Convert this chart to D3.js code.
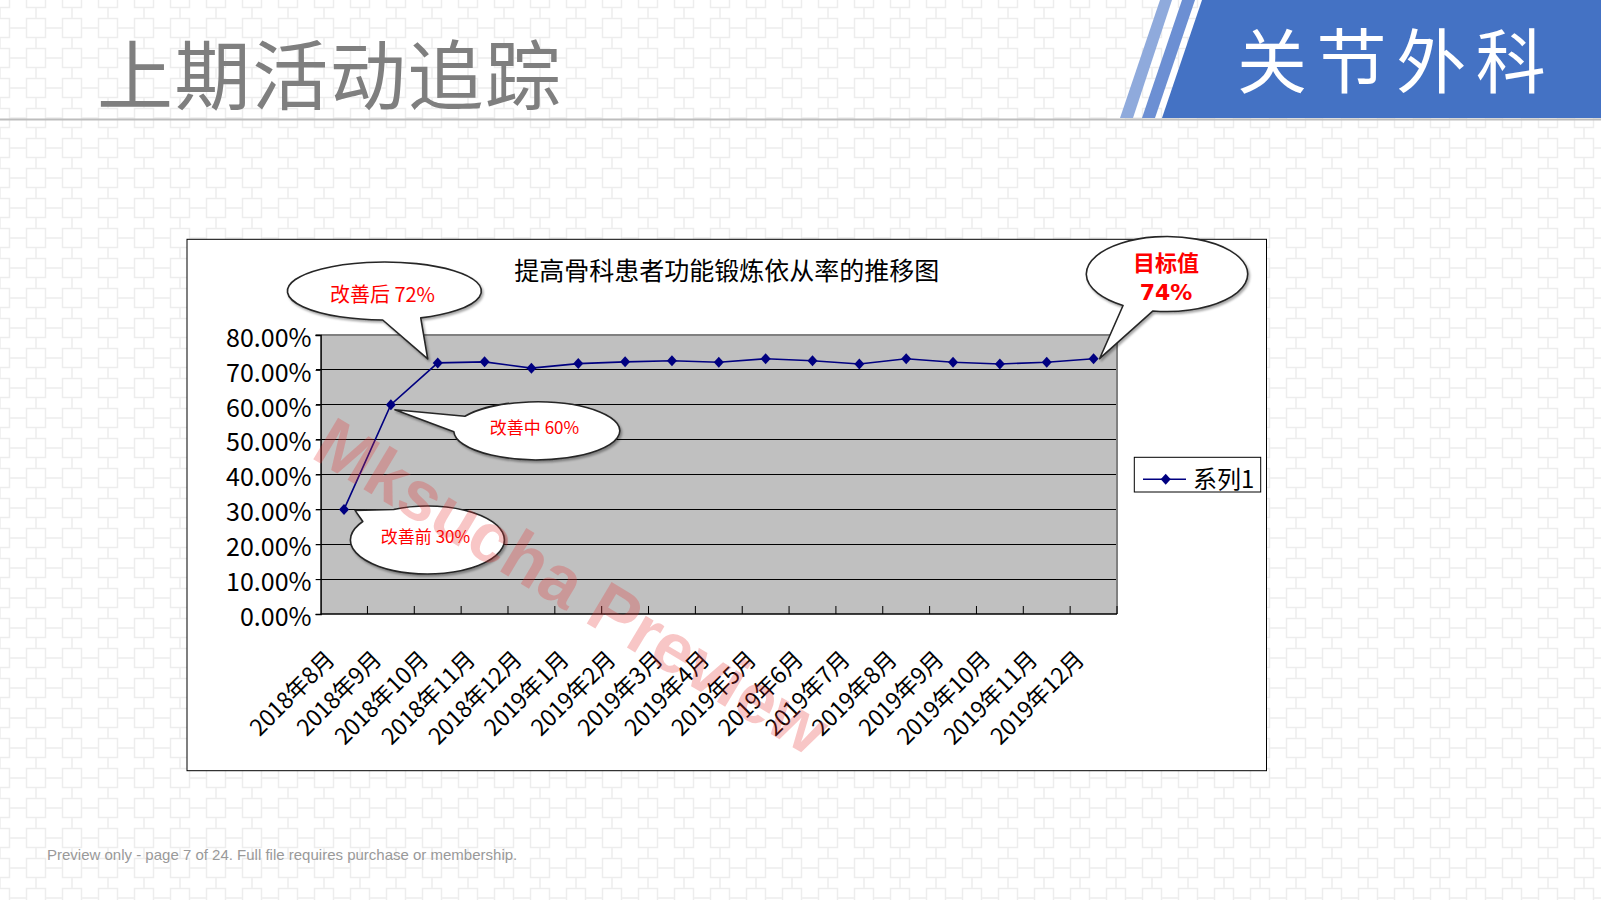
<!DOCTYPE html>
<html><head><meta charset="utf-8">
<script src="https://cdn.jsdelivr.net/npm/d3@7"></script>
<style>
html,body{margin:0;padding:0;background:#fff;}
svg{display:block;}
</style></head><body>
<svg id="c" width="1601" height="900"></svg>
<script>
// ---------- data ----------
const categories = ["2018年8月","2018年9月","2018年10月","2018年11月","2018年12月","2019年1月","2019年2月","2019年3月","2019年4月","2019年5月","2019年6月","2019年7月","2019年8月","2019年9月","2019年10月","2019年11月","2019年12月"];
const seriesName = "系列1";
const values = [0.30,0.60,0.72,0.723,0.705,0.718,0.723,0.726,0.722,0.732,0.726,0.717,0.732,0.722,0.717,0.722,0.732];
const yTicks = [0,0.1,0.2,0.3,0.4,0.5,0.6,0.7,0.8];
const chartTitle = "提高骨科患者功能锻炼依从率的推移图";
const pageTitle = "上期活动追踪";
const deptName = "关节外科";
const calloutTexts = [["改善后 72%"],["改善中 60%"],["改善前 30%"],["目标值","74%"]];
const calloutPointIndex = [2,1,0,16];
const footerText = "Preview only - page 7 of 24. Full file requires purchase or membership.";
const watermarkText = "Mksucha Preview";

// ---------- layout ----------
const W = 1601, H = 900;
const plot = {l: 320.6, r: 1117, t: 335, b: 614};
const box = {l: 187, t: 239.3, r: 1266.5, b: 770.7};
const cjk = "'Noto Sans CJK SC','Noto Sans',sans-serif";

const svg = d3.select("#c");
const defs = svg.append("defs");

// background lattice pattern
const pat = defs.append("pattern").attr("id","bg").attr("patternUnits","userSpaceOnUse")
  .attr("width",36).attr("height",30).attr("patternTransform","translate(18,13)");
pat.append("rect").attr("x",8.5).attr("y",5.5).attr("width",19).attr("height",19)
  .attr("fill","none").attr("stroke","#ededed").attr("stroke-width",1.5);
pat.append("path").attr("d","M27.5,15H36M0,15H8.5M18,0V5.5M18,24.5V30")
  .attr("stroke","#ededed").attr("stroke-width",1.5).attr("fill","none");
svg.append("rect").attr("width",W).attr("height",H).attr("fill","#fff");
svg.append("rect").attr("width",W).attr("height",H).attr("fill","url(#bg)");

const shadow = defs.append("filter").attr("id","sh").attr("x","-20%").attr("y","-20%").attr("width","140%").attr("height","150%");
shadow.append("feDropShadow").attr("dx",1.5).attr("dy",2).attr("stdDeviation",1.2)
  .attr("flood-color","#000").attr("flood-opacity",0.35);

// ---------- header ----------
svg.append("rect").attr("x",0).attr("y",118.5).attr("width",W).attr("height",2).attr("fill","#bdbdbd");
svg.append("polygon").attr("points","1160,0 1172,0 1133,118 1120,118").attr("fill","#8faadc");
svg.append("polygon").attr("points","1182,0 1195,0 1155,118 1142,118").attr("fill","#6c8fd3");
svg.append("polygon").attr("points","1202,0 1601,0 1601,118 1162,118").attr("fill","#4472c4");
svg.append("text").attr("x",97).attr("y",104).attr("font-family",cjk).attr("font-size",76)
  .attr("letter-spacing",1.6).attr("fill","#7f7f7f").text(pageTitle);
svg.append("text").attr("x",1237).attr("y",88).attr("font-family",cjk).attr("font-size",70)
  .attr("letter-spacing",9.6).attr("fill","#fff").text(deptName);

// ---------- chart box ----------
svg.append("rect").attr("x",box.l).attr("y",box.t).attr("width",box.r-box.l).attr("height",box.b-box.t)
  .attr("fill","#fff").attr("stroke","#000").attr("stroke-width",1);

const x = d3.scaleBand().domain(categories).range([plot.l, plot.r]).padding(0);
const y = d3.scaleLinear().domain([0,0.8]).range([plot.b, plot.t]);
const cx = (d)=> x(d) + x.bandwidth()/2;

// plot area
svg.append("rect").attr("x",plot.l).attr("y",plot.t).attr("width",plot.r-plot.l).attr("height",plot.b-plot.t)
  .attr("fill","#c0c0c0");
// gridlines
svg.append("g").selectAll("line").data(yTicks.filter(d=>d>0 && d<0.8)).join("line")
  .attr("x1",plot.l-5).attr("x2",plot.r).attr("y1",d=>y(d)).attr("y2",d=>y(d))
  .attr("stroke","#000").attr("stroke-width",1).attr("shape-rendering","crispEdges");
// top/right border (gray)
svg.append("path").attr("d",`M${plot.l},${y(0.8)}H${plot.r}V${plot.b}`)
  .attr("fill","none").attr("stroke","#808080").attr("stroke-width",2);
svg.append("line").attr("x1",plot.l-5).attr("x2",plot.l).attr("y1",y(0.8)).attr("y2",y(0.8)).attr("stroke","#000");

// y axis
const yAxis = d3.axisLeft(y).tickValues(yTicks).tickFormat(d3.format(".2%")).tickSize(5).tickPadding(4);
const gy = svg.append("g").attr("transform",`translate(${plot.l},0)`).call(yAxis);
gy.select(".domain").attr("stroke","#000").attr("stroke-width",1.5);
gy.selectAll(".tick line").attr("stroke","#000");
gy.selectAll(".tick text").attr("font-family",cjk).attr("font-size",25).attr("fill","#000")
  .attr("dy","0.45em").attr("x",-9);

// x axis: ticks inside at category boundaries
svg.append("g").selectAll("line").data(categories.slice(1).concat(["__end"])).join("line")
  .attr("x1",d=> d==="__end" ? plot.r : x(d)).attr("x2",d=> d==="__end" ? plot.r : x(d))
  .attr("y1",plot.b).attr("y2",plot.b-8).attr("stroke","#000").attr("stroke-width",1);
svg.append("line").attr("x1",plot.l).attr("x2",plot.r).attr("y1",plot.b).attr("y2",plot.b)
  .attr("stroke","#000").attr("stroke-width",1.5);
svg.append("g").selectAll("text").data(categories).join("text")
  .attr("transform",d=>`translate(${cx(d)-8},${plot.b+47}) rotate(-45)`)
  .attr("text-anchor","end").attr("font-family",cjk).attr("font-size",23).attr("letter-spacing",-0.3).attr("fill","#000")
  .text(d=>d);

// title
svg.append("text").attr("x",(box.l+box.r)/2).attr("y",280).attr("text-anchor","middle")
  .attr("font-family",cjk).attr("font-size",25).attr("fill","#000").text(chartTitle);

// series line + markers
const line = d3.line().x((d,i)=>cx(categories[i])).y(d=>y(d));
svg.append("path").datum(values).attr("d",line).attr("fill","none").attr("stroke","#000080").attr("stroke-width",1.6);
const diamond = "M0,-5.5L5,0L0,5.5L-5,0Z";
svg.append("g").selectAll("path").data(values).join("path")
  .attr("transform",(d,i)=>`translate(${cx(categories[i])},${y(d)})`).attr("d",diamond).attr("fill","#000080");

// ---------- callouts ----------
const calloutLayout = [
  {cx:384.4, cy:291, rx:97, ry:29, a1:68, a2:91, tdx:-10, tdy:-4, fs:20, bold:false, lines:[302], tx:382.5},
  {cx:536.8, cy:430.8, rx:83, ry:29, a1:178, a2:210, tdx:4, tdy:5, fs:17, bold:false, lines:[433.5], tx:534.5},
  {cx:427.4, cy:540, rx:77, ry:34, a1:213, a2:244, tdx:11, tdy:1, fs:17, bold:false, lines:[543], tx:425.5},
  {cx:1167, cy:274, rx:80.7, ry:37.5, a1:100, a2:123, tdx:6, tdy:0, fs:22, bold:true, lines:[270.5,300], tx:1166}
];
calloutLayout.forEach((c,k)=>{
  const i = calloutPointIndex[k];
  const tip = [cx(categories[i]) + c.tdx, y(values[i]) + c.tdy];
  const pt = a => [c.cx + c.rx*Math.cos(a*Math.PI/180), c.cy + c.ry*Math.sin(a*Math.PI/180)];
  const b1 = pt(c.a1), b2 = pt(c.a2);
  const d = `M${b2[0]},${b2[1]}L${tip[0]},${tip[1]}L${b1[0]},${b1[1]}A${c.rx},${c.ry} 0 1 0 ${b2[0]},${b2[1]}Z`;
  svg.append("path").attr("d",d).attr("fill","#fff").attr("stroke","#262626").attr("stroke-width",1.6)
    .attr("stroke-linejoin","round").attr("filter","url(#sh)");
  calloutTexts[k].forEach((t,j)=>{
    svg.append("text").attr("x",c.tx).attr("y",c.lines[j]).attr("text-anchor","middle")
      .attr("font-family", c.bold && j===1 ? "'DejaVu Sans',sans-serif" : cjk)
      .attr("font-weight", c.bold ? "bold" : "normal")
      .attr("font-size",c.fs).attr("fill","#ff0000").text(t);
  });
});

// ---------- legend ----------
const lg = svg.append("g");
lg.append("rect").attr("x",1134.3).attr("y",457.3).attr("width",126.4).attr("height",34.7)
  .attr("fill","#fff").attr("stroke","#000").attr("stroke-width",1);
lg.append("line").attr("x1",1143).attr("x2",1186).attr("y1",479.3).attr("y2",479.3).attr("stroke","#000080").attr("stroke-width",1.6);
lg.append("path").attr("transform","translate(1165.7,479.3)").attr("d",diamond).attr("fill","#000080");
lg.append("text").attr("x",1193).attr("y",488).attr("font-family",cjk).attr("font-size",24).attr("fill","#000").text(seriesName);

// ---------- footer ----------
svg.append("text").attr("x",47).attr("y",860).attr("font-family","'Liberation Sans',Arial,sans-serif")
  .attr("font-size",15).attr("fill","#999").text(footerText);

// ---------- watermark ----------
svg.append("text").attr("transform","translate(572,586) rotate(31)").attr("text-anchor","middle")
  .attr("dy","0.35em").attr("font-family","'Liberation Sans',Arial,sans-serif").attr("font-weight","bold")
  .attr("font-size",70).attr("fill","rgb(230,50,50)").attr("fill-opacity",0.28).text(watermarkText);
</script>
</body></html>
